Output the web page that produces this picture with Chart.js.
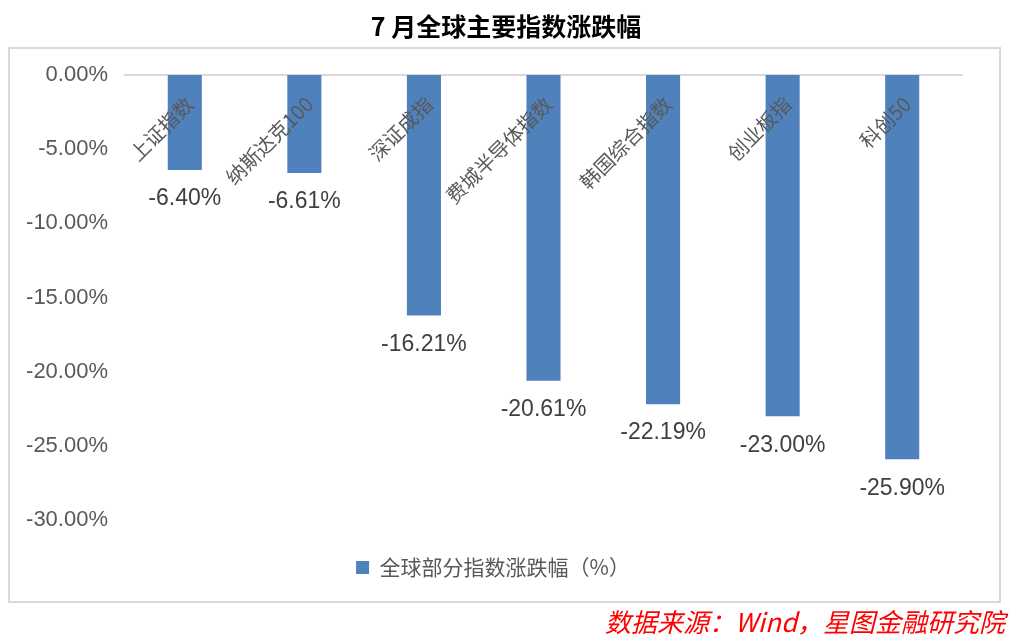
<!DOCTYPE html>
<html>
<head>
<meta charset="utf-8">
<script src="https://cdn.jsdelivr.net/npm/chart.js@4/dist/chart.umd.min.js"></script>
<style>
  html, body { margin: 0; padding: 0; background: #fff; }
  canvas { display: block; }
</style>
</head>
<body>
<canvas id="chart" width="1012" height="642"></canvas>
<script>
// index names and July change (%)
const categories = ['上证指数', '纳斯达克100', '深证成指', '费城半导体指数', '韩国综合指数', '创业板指', '科创50'];
const changes = [-6.40, -6.61, -16.21, -20.61, -22.19, -23.00, -25.90];
const yTicks = [0, -5, -10, -15, -20, -25, -30];
const seriesName = '全球部分指数涨跌幅（%）';
const titleText = '7 月全球主要指数涨跌幅';
const sourceText = '数据来源：Wind，星图金融研究院';

const cjk = '"Noto Sans CJK SC", sans-serif';
const latin = '"Liberation Sans", Arial, sans-serif';

// border box, title and source line
const framePlugin = {
  id: 'frame',
  beforeDraw(chart) {
    const ctx = chart.ctx;
    ctx.save();
    ctx.fillStyle = '#fff';
    ctx.fillRect(0, 0, chart.width, chart.height);
    ctx.strokeStyle = '#d9d9d9';
    ctx.lineWidth = 2;
    ctx.strokeRect(9, 48, 991, 554);
    ctx.fillStyle = '#000';
    ctx.font = 'bold 25px ' + cjk;
    ctx.textAlign = 'center';
    ctx.textBaseline = 'middle';
    ctx.fillText(titleText, 506, 26);
    ctx.fillStyle = '#ff0000';
    ctx.font = 'italic 26px ' + cjk;
    ctx.textAlign = 'right';
    ctx.fillText(sourceText, 1005, 622);
    ctx.restore();
  }
};

// value labels under each bar
const valueLabels = {
  id: 'valueLabels',
  afterDatasetsDraw(chart) {
    const ctx = chart.ctx;
    const meta = chart.getDatasetMeta(0);
    ctx.save();
    ctx.fillStyle = '#404040';
    ctx.font = '23px ' + latin;
    ctx.textAlign = 'center';
    ctx.textBaseline = 'middle';
    meta.data.forEach((bar, i) => {
      ctx.fillText(changes[i].toFixed(2) + '%', bar.x, bar.y + 29);
    });
    ctx.restore();
  }
};

new Chart(document.getElementById('chart'), {
  type: 'bar',
  data: {
    labels: categories,
    datasets: [{
      label: seriesName,
      data: changes,
      backgroundColor: '#4f81bd',
      borderColor: '#4f81bd',
      borderWidth: 0,
      categoryPercentage: 1,
      barPercentage: 0.285
    }]
  },
  options: {
    responsive: false,
    animation: false,
    devicePixelRatio: 1,
    layout: { padding: { left: 24, right: 50, top: 75, bottom: 54 } },
    plugins: {
      title: { display: false },
      tooltip: { enabled: false },
      legend: {
        position: 'bottom',
        labels: {
          boxWidth: 13,
          boxHeight: 13,
          padding: 37,
          color: '#595959',
          font: { family: cjk, size: 21 }
        }
      }
    },
    scales: {
      x: {
        position: { y: 0 },
        grid: { display: false, drawTicks: false },
        border: { display: true, color: '#d9d9d9', width: 2 },
        ticks: {
          z: 1, // labels sit on top of the bars
          autoSkip: false,
          minRotation: 45,
          maxRotation: 45,
          padding: 17,
          labelOffset: 5,
          color: '#595959',
          font: { family: cjk, size: 20 }
        }
      },
      y: {
        min: -30,
        max: 0,
        afterFit(scale) { scale.width = 101; },
        afterBuildTicks(scale) { scale.ticks = yTicks.map(v => ({ value: v })); },
        grid: { display: false, drawTicks: false },
        border: { display: false },
        ticks: {
          padding: 17,
          color: '#595959',
          font: { family: latin, size: 22 },
          callback: v => v.toFixed(2) + '%'
        }
      }
    }
  },
  plugins: [framePlugin, valueLabels]
});
</script>
</body>
</html>
